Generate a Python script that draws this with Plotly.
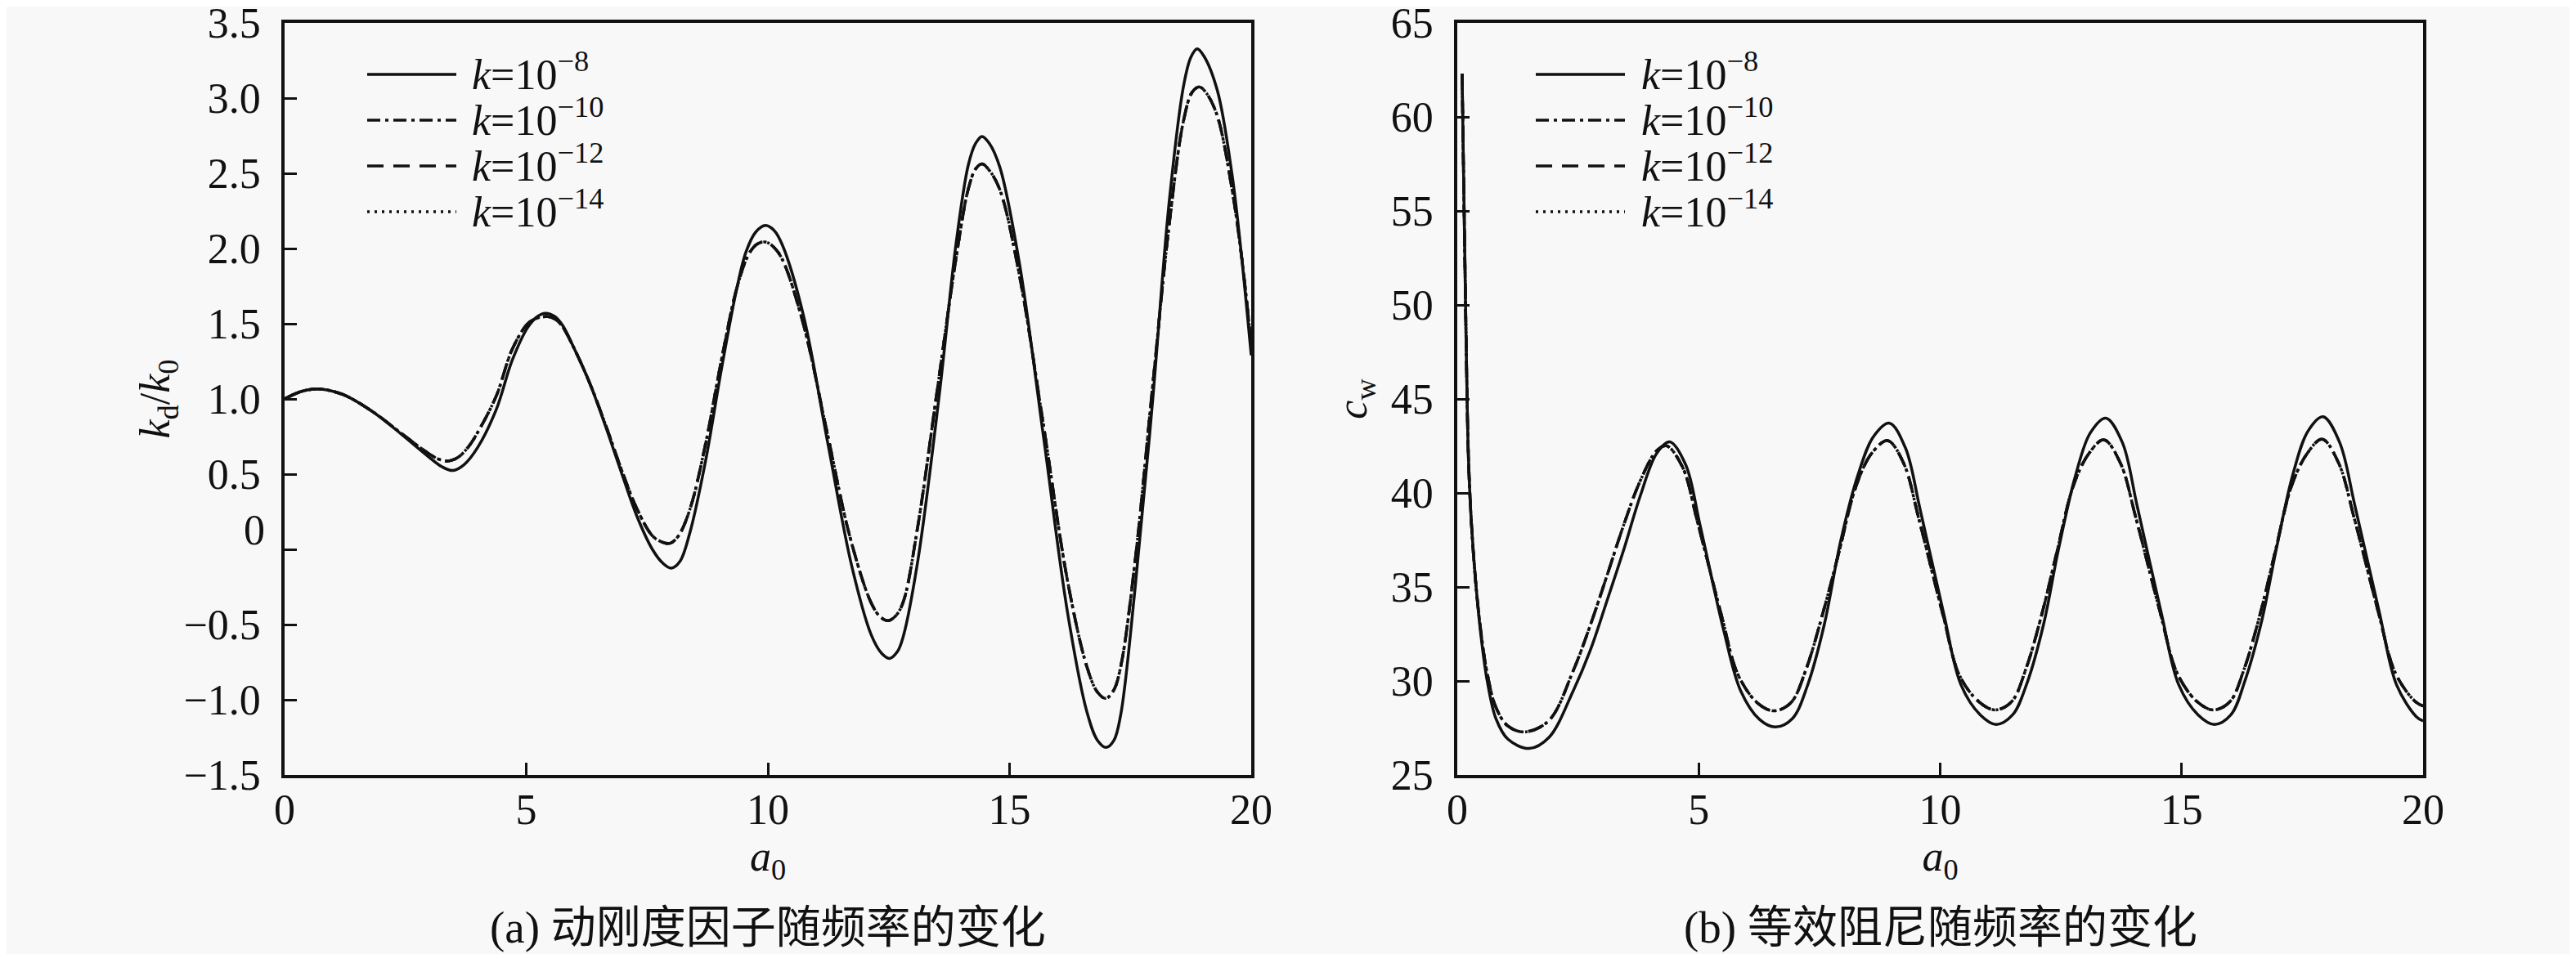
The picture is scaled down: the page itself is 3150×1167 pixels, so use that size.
import plotly.graph_objects as go

# ---------------- data ----------------
# (a) dynamic stiffness factor kd/k0 vs a0
a0_kd_k8 = [0, 0.35, 0.7, 1.2, 1.8, 2.4, 3.0, 3.25, 3.48, 3.72, 4.0, 4.38, 4.71, 5.03, 5.22,
            5.4, 5.58, 5.75, 6.0, 6.32, 6.65, 6.97, 7.29, 7.61, 7.82, 8.0, 8.18, 8.39, 8.71,
            9.04, 9.36, 9.55, 9.75, 9.95, 10.13, 10.3, 10.74, 11.24, 11.74, 12.14, 12.35,
            12.52, 12.68, 12.8, 13.1, 13.54, 13.9, 14.15, 14.3, 14.43, 14.58, 14.8, 15.2,
            15.7, 16.2, 16.6, 16.82, 17.0, 17.16, 17.3, 17.6, 17.95, 18.3, 18.6, 18.75,
            18.88, 19.02, 19.3, 19.6, 19.8, 20.0]
kd_k8 = [1.00, 1.05, 1.067, 1.03, 0.92, 0.77, 0.61, 0.55, 0.524, 0.565, 0.68, 0.93, 1.257,
         1.475, 1.545, 1.569, 1.55, 1.49, 1.33, 1.10, 0.81, 0.51, 0.22, 0.0, -0.09, -0.125,
         -0.08, 0.116, 0.587, 1.2, 1.74, 1.98, 2.11, 2.153, 2.12, 2.023, 1.55, 0.705, -0.118,
         -0.57, -0.69, -0.725, -0.68, -0.58, -0.08, 1.01, 2.05, 2.56, 2.70, 2.745, 2.70,
         2.54, 1.91, 0.755, -0.42, -1.08, -1.27, -1.317, -1.27, -1.10, -0.25, 0.95, 2.30,
         3.08, 3.27, 3.327, 3.28, 3.05, 2.50, 1.95, 1.29]

a0_kd_low = [0, 0.35, 0.7, 1.2, 1.8, 2.4, 2.9, 3.15, 3.35, 3.58, 3.8, 4.0, 4.38, 4.71, 5.03,
             5.25, 5.45, 5.6, 5.75, 6.0, 6.32, 6.65, 6.97, 7.29, 7.61, 7.8, 7.97, 8.15, 8.39,
             8.71, 9.04, 9.36, 9.6, 9.78, 9.95, 10.12, 10.3, 10.74, 11.22, 11.7, 12.14, 12.33,
             12.49, 12.65, 12.8, 13.1, 13.5, 13.9, 14.15, 14.3, 14.43, 14.58, 14.8, 15.2,
             15.7, 16.2, 16.6, 16.82, 16.99, 17.15, 17.3, 17.6, 17.95, 18.3, 18.6, 18.78,
             18.93, 19.08, 19.3, 19.6, 19.8, 20.0]
kd_k10 = [1.00, 1.05, 1.066, 1.03, 0.92, 0.775, 0.655, 0.605, 0.587, 0.61, 0.68, 0.78, 1.02,
          1.33, 1.50, 1.54, 1.547, 1.53, 1.48, 1.33, 1.10, 0.82, 0.53, 0.27, 0.09, 0.05, 0.04,
          0.09, 0.27, 0.70, 1.26, 1.74, 1.96, 2.03, 2.043, 2.01, 1.927, 1.49, 0.785, 0.08,
          -0.358, -0.45, -0.474, -0.44, -0.35, 0.15, 1.05, 1.95, 2.40, 2.53, 2.562, 2.52,
          2.39, 1.83, 0.83, -0.21, -0.78, -0.95, -0.991, -0.94, -0.78, -0.07, 1.05, 2.15,
          2.85, 3.04, 3.074, 3.03, 2.88, 2.40, 1.95, 1.36]
kd_k12 = list(kd_k10)
kd_k14 = list(kd_k10)

# (b) equivalent damping cw vs a0
a0_cw_k8 = [0.10, 0.13, 0.16, 0.19, 0.23, 0.29, 0.39, 0.50, 0.62, 0.80, 1.05, 1.49, 1.9, 2.4,
            2.75, 3.1, 3.44, 3.79, 4.13, 4.40, 4.73, 5.03, 5.52, 5.87, 6.26, 6.59, 6.94, 7.25,
            7.6, 7.94, 8.29, 8.62, 8.95, 9.28, 9.59, 10.08, 10.43, 10.83, 11.16, 11.5, 11.8,
            12.14, 12.45, 12.8, 13.11, 13.43, 13.77, 14.08, 14.58, 14.94, 15.34, 15.68, 16.02,
            16.31, 16.65, 16.96, 17.3, 17.62, 17.93, 18.27, 18.59, 19.09, 19.45, 19.86, 20.0]
cw_k8 = [62.3, 57.0, 52.0, 47.0, 42.0, 38.5, 35.0, 32.2, 30.0, 28.0, 26.9, 26.41, 27.0, 29.47,
         31.6, 34.26, 36.92, 39.85, 42.11, 42.72, 41.5, 38.25, 32.66, 29.47, 27.95, 27.55,
         28.0, 29.74, 33.0, 37.45, 40.9, 43.0, 43.71, 42.4, 39.06, 33.5, 29.8, 28.2, 27.69,
         28.2, 29.9, 33.0, 37.0, 40.9, 43.2, 43.98, 42.7, 39.3, 33.6, 29.8, 28.2, 27.69, 28.2,
         30.0, 33.1, 37.0, 40.95, 43.3, 44.05, 42.7, 39.3, 33.7, 29.8, 28.1, 27.87]

a0_cw_low = [0.10, 0.13, 0.16, 0.19, 0.23, 0.29, 0.39, 0.50, 0.62, 0.80, 1.05, 1.40, 1.9, 2.4,
             2.75, 3.1, 3.44, 3.79, 4.13, 4.33, 4.66, 4.98, 5.47, 5.82, 6.23, 6.56, 6.91, 7.22,
             7.57, 7.9, 8.25, 8.58, 8.91, 9.24, 9.56, 10.05, 10.4, 10.8, 11.14, 11.48, 11.77,
             12.11, 12.42, 12.76, 13.08, 13.39, 13.73, 14.05, 14.55, 14.91, 15.32, 15.66, 16.0,
             16.29, 16.63, 16.94, 17.28, 17.6, 17.91, 18.25, 18.57, 19.07, 19.43, 19.84, 20.0]
cw_k10 = [62.3, 57.0, 52.0, 47.0, 42.0, 38.5, 35.0, 32.4, 30.4, 28.6, 27.6, 27.29, 27.9, 30.54,
          32.93, 35.6, 38.25, 40.65, 42.25, 42.51, 41.4, 38.4, 33.5, 30.3, 28.8, 28.41, 28.85,
          30.6, 33.6, 36.8, 40.3, 42.1, 42.78, 41.6, 38.6, 33.6, 30.3, 28.9, 28.46, 28.9, 30.6,
          33.6, 36.9, 40.4, 42.1, 42.83, 41.6, 38.7, 33.7, 30.4, 28.9, 28.46, 28.9, 30.6, 33.6,
          36.9, 40.4, 42.1, 42.86, 41.6, 38.7, 33.7, 30.4, 28.9, 28.67]
cw_k12 = list(cw_k10)
cw_k14 = list(cw_k10)

series_names = ["k=10^-8", "k=10^-10", "k=10^-12", "k=10^-14"]
legend_labels = ["<i>k</i>=10<sup>−8</sup>", "<i>k</i>=10<sup>−10</sup>",
                 "<i>k</i>=10<sup>−12</sup>", "<i>k</i>=10<sup>−14</sup>"]

x_ticks = [0, 5, 10, 15, 20]
y1_ticks = [-1.5, -1.0, -0.5, 0, 0.5, 1.0, 1.5, 2.0, 2.5, 3.0, 3.5]
y1_ticktext = ["−1.5", "−1.0", "−0.5", "", "0.5", "1.0", "1.5", "2.0", "2.5", "3.0", "3.5"]
y2_ticks = [25, 30, 35, 40, 45, 50, 55, 60, 65]

caption_a = "(a) 动刚度因子随频率的变化"
caption_b = "(b) 等效阻尼随频率的变化"

# ---------------- styling ----------------
W, H = 3150, 1167
OFF = 8  # page body offset
BG = "#f8f8f8"
INK = "#111111"
SERIF = "Liberation Serif, DejaVu Serif, serif"
CAPFONT = "Liberation Serif, Noto Sans CJK SC, serif"
FS = 52
dashes = ["solid", "16px,6px,4px,6px", "20px,12px", "3px,6px"]
LW = 3.5


def px(x):
    return (x - OFF) / W


def py(y):
    return 1 - (y - OFF) / H


fig = go.Figure()

kd_x = [a0_kd_k8, a0_kd_low, a0_kd_low, a0_kd_low]
kd_y = [kd_k8, kd_k10, kd_k12, kd_k14]
cw_x = [a0_cw_k8, a0_cw_low, a0_cw_low, a0_cw_low]
cw_y = [cw_k8, cw_k10, cw_k12, cw_k14]

for i in range(4):
    fig.add_trace(go.Scatter(x=kd_x[i], y=kd_y[i], mode="lines", name=series_names[i],
                             line=dict(color=INK, width=LW, dash=dashes[i], shape="spline",
                                       smoothing=1.0),
                             xaxis="x", yaxis="y", showlegend=False))
for i in range(4):
    fig.add_trace(go.Scatter(x=cw_x[i], y=cw_y[i], mode="lines", name=series_names[i],
                             line=dict(color=INK, width=LW, dash=dashes[i], shape="spline",
                                       smoothing=1.0),
                             xaxis="x2", yaxis="y2", showlegend=False))

axis_common = dict(showgrid=False, zeroline=False, showline=True, linecolor=INK, linewidth=3.5,
                   mirror=True, ticks="inside", ticklen=15, tickwidth=3, tickcolor=INK,
                   automargin=False, ticklabeloverflow="allow",
                   tickfont=dict(family=SERIF, size=FS, color=INK))

dom_x1 = [px(348), px(1530)]
dom_x2 = [px(1782), px(2963)]
dom_y = [py(948), py(28)]

fig.update_layout(
    width=W, height=H, margin=dict(l=0, r=0, t=0, b=0, pad=0, autoexpand=False),
    paper_bgcolor=BG, plot_bgcolor=BG, showlegend=False,
    xaxis=dict(domain=dom_x1, range=[0, 20], tickmode="array", tickvals=x_ticks,
               ticklabelstandoff=-6, anchor="y",
               title=dict(text="<i>a</i><sub>0</sub>", font=dict(family=SERIF, size=FS, color=INK),
                          standoff=6),
               **axis_common),
    yaxis=dict(domain=dom_y, range=[-1.5, 3.5], tickmode="array", tickvals=y1_ticks,
               ticktext=y1_ticktext, ticklabelstandoff=15, anchor="x",
               title=dict(text="<i>k</i><sub>d</sub>/<i>k</i><sub>0</sub>",
                          font=dict(family=SERIF, size=FS, color=INK), standoff=1),
               **axis_common),
    xaxis2=dict(domain=dom_x2, range=[0, 20], tickmode="array", tickvals=x_ticks,
                ticklabelstandoff=-6, anchor="y2",
                title=dict(text="<i>a</i><sub>0</sub>", font=dict(family=SERIF, size=FS, color=INK),
                           standoff=6),
                **axis_common),
    yaxis2=dict(domain=dom_y, range=[25, 65], tickmode="array", tickvals=y2_ticks,
                ticklabelstandoff=15, anchor="x2",
                title=dict(text="<i>c</i><sub>w</sub>", font=dict(family=SERIF, size=FS, color=INK),
                           standoff=14),
                **axis_common),
)

# shifted "0" label on the left axis (as in the reference)
fig.add_annotation(x=px(326), xref="paper", y=0, yref="y", yshift=24, xanchor="right",
                   yanchor="middle", showarrow=False, text="0",
                   font=dict(family=SERIF, size=FS, color=INK))

# hand-drawn legends (long line samples as in the reference)
rows = [91, 147, 203, 259]
for (x0, x1, xt) in [(449, 558, 575), (1878, 1987, 2005)]:
    for i in range(4):
        fig.add_shape(type="line", xref="paper", yref="paper", x0=px(x0), x1=px(x1),
                      y0=py(rows[i]), y1=py(rows[i]),
                      line=dict(color=INK, width=LW, dash=dashes[i]))
        fig.add_annotation(x=px(xt), y=py(rows[i] - 4), xref="paper", yref="paper",
                           xanchor="left", yanchor="middle", showarrow=False,
                           text=legend_labels[i], font=dict(family=SERIF, size=FS, color=INK))

# captions
for cx, txt in [((348 + 1530) / 2, caption_a), ((1782 + 2963) / 2, caption_b)]:
    fig.add_annotation(x=px(cx), y=py(1134), xref="paper", yref="paper", xanchor="center",
                       yanchor="middle", showarrow=False, text=txt,
                       font=dict(family=CAPFONT, size=55, color=INK))

fig.write_html("out.html")
